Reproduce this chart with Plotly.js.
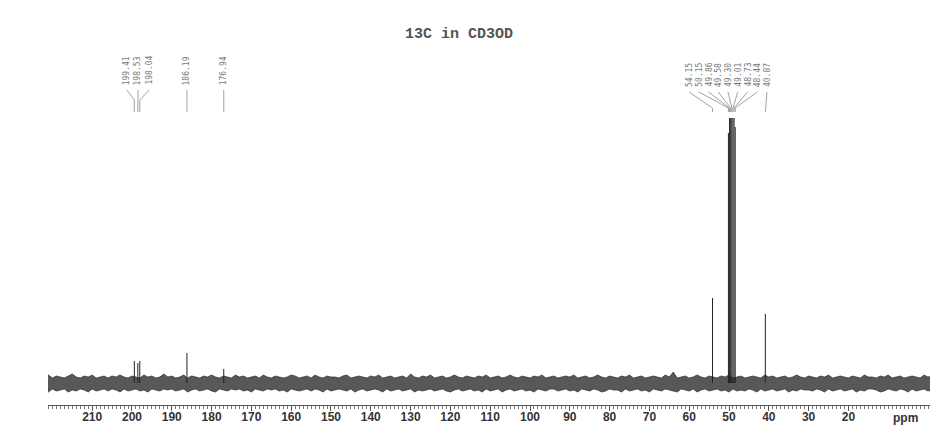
<!DOCTYPE html>
<html>
<head>
<meta charset="utf-8">
<script src="https://cdn.plot.ly/plotly-3.0.1.min.js"></script>
<style>html,body{margin:0;padding:0;background:#fff;}#chart{width:930px;height:427px;}</style>
</head>
<body>
<div id="chart"></div>
<script>
// ---- data ----
const titleText = "13C in CD3OD";
const peakPpm    = [199.41, 198.53, 198.04, 186.19, 176.94, 54.15, 50.15, 49.86, 49.58, 49.30, 49.01, 48.73, 48.44, 40.87];
const peakHeight = [22, 20, 22, 30, 14, 85, 250, 265, 265, 265, 265, 265, 256, 69];
const peakGroup  = ["a", "a", "a", "s", "s", "b", "b", "b", "b", "b", "b", "b", "b", "b"];
const tickVals   = [210, 200, 190, 180, 170, 160, 150, 140, 130, 120, 110, 100, 90, 80, 70, 60, 50, 40, 30, 20];
const tickText   = ["210","200","190","180","170","160","150","140","130","120","110","100","90","80","70","60","50","40","30","20"];
// baseline noise envelope (upper / lower edge), sampled every 1 ppm from 222 ppm down to -1 ppm
const noiseStart = 222, noiseStep = 1;
const noiseHi = [
  6,8,5,7,6,5,7,9,6,5,7,6,8,5,6,7,
  5,7,6,8,6,5,7,6,5,8,6,7,5,6,9,6,
  7,5,6,8,5,7,6,5,7,6,8,6,5,7,6,5,
  8,6,7,5,6,7,5,8,6,5,7,6,5,6,8,7,
  5,6,7,5,8,6,5,7,6,6,5,7,8,5,6,7,
  6,5,7,6,8,5,6,7,5,6,7,5,9,6,5,7,
  6,8,5,6,7,5,6,8,6,5,7,6,5,7,6,8,
  5,6,7,5,6,8,6,5,7,6,5,7,6,8,5,6,
  7,5,6,7,6,8,5,6,7,5,6,8,6,5,7,6,
  5,7,6,8,5,6,7,5,6,7,6,5,8,6,11,5,
  6,7,5,6,8,6,5,7,6,5,7,6,8,5,6,7,
  5,6,7,6,5,8,6,7,5,6,7,5,6,8,6,5,
  7,6,5,7,6,8,5,6,7,6,5,7,6,5,8,6,
  6,5,7,6,8,5,6,7,5,6,7,6,5,8,6,7];
const noiseLo = [
  -7,-9,-6,-8,-7,-6,-9,-7,-8,-6,-7,-9,-6,-8,-7,-6,
  -8,-6,-7,-9,-6,-8,-7,-6,-8,-7,-9,-6,-7,-8,-6,-7,
  -6,-8,-7,-6,-9,-7,-6,-8,-7,-6,-8,-9,-6,-7,-8,-6,
  -7,-6,-8,-7,-9,-6,-7,-8,-6,-7,-6,-8,-7,-9,-6,-7,
  -8,-7,-6,-8,-6,-7,-9,-6,-8,-7,-6,-7,-8,-6,-9,-7,
  -6,-8,-7,-6,-7,-9,-6,-8,-7,-6,-8,-7,-6,-9,-7,-8,
  -7,-6,-8,-7,-6,-8,-9,-7,-6,-8,-7,-6,-8,-7,-9,-6,
  -8,-7,-6,-9,-7,-6,-8,-7,-6,-8,-7,-9,-6,-7,-8,-6,
  -6,-8,-7,-6,-8,-7,-9,-6,-7,-8,-6,-7,-9,-8,-6,-7,
  -7,-9,-6,-8,-7,-6,-8,-7,-9,-6,-7,-8,-6,-7,-8,-9,
  -6,-7,-8,-6,-9,-7,-6,-8,-7,-6,-8,-7,-9,-6,-8,-7,
  -8,-6,-7,-9,-6,-8,-7,-6,-8,-7,-6,-9,-7,-8,-6,-7,
  -7,-8,-6,-7,-9,-6,-8,-7,-6,-8,-7,-6,-9,-7,-8,-6,
  -6,-7,-9,-8,-6,-7,-8,-6,-7,-9,-6,-8,-7,-6,-8,-7];

// ---- build traces ----
const noiseX = noiseHi.map((_, i) => noiseStart - i * noiseStep);

const stickX = [], stickY = [];
peakPpm.forEach((p, i) => { stickX.push(p, p, null); stickY.push(0, peakHeight[i], null); });

// label positions (layout): group a spread around 198.5 ppm, group b spread from 60.05 ppm
const labelX = [];
let ka = 0, kb = 0;
peakGroup.forEach((g, i) => {
  if (g === "a") { labelX.push(201.3 - 2.8 * ka); ka++; }
  else if (g === "b") { labelX.push(60.05 - 2.45 * kb); kb++; }
  else labelX.push(peakPpm[i]);
});

const connX = [], connY = [];
peakPpm.forEach((p, i) => {
  const top = peakGroup[i] === "b" ? 291 : 293;
  const knee = peakGroup[i] === "b" ? 275 : 283;
  connX.push(labelX[i], p, p, null);
  connY.push(top, knee, 271, null);
});

const traces = [
  {x: noiseX, y: noiseLo, type: "scatter", mode: "lines", line: {color: "#2b2b2b", width: 0.7}, hoverinfo: "skip", showlegend: false},
  {x: noiseX, y: noiseHi, type: "scatter", mode: "lines", fill: "tonexty", fillcolor: "rgba(70,70,70,0.9)", line: {color: "#2b2b2b", width: 0.7}, hoverinfo: "skip", showlegend: false},
  {x: stickX, y: stickY, type: "scatter", mode: "lines", line: {color: "#222", width: 1.0}, hoverinfo: "skip", showlegend: false},
  {x: connX, y: connY, type: "scatter", mode: "lines", line: {color: "#8a8a8a", width: 0.8}, hoverinfo: "skip", showlegend: false}
];

const annotations = peakPpm.map((p, i) => ({
  x: labelX[i], y: peakGroup[i] === "b" ? 294 : 296, xref: "x", yref: "y", text: p.toFixed(2), showarrow: false,
  textangle: -90, xanchor: "center", yanchor: "bottom",
  font: {family: "DejaVu Sans Mono", size: 8, color: "#777"}
}));
annotations.push({x: (905 - 48) / 882, y: -(418 - 405) / 385, xref: "paper", yref: "paper", text: "ppm", showarrow: false,
  xanchor: "center", yanchor: "middle", font: {family: "Liberation Sans", size: 12, color: "#333", weight: "bold"}});

const layout = {
  width: 930, height: 427,
  margin: {l: 48, r: 0, t: 20, b: 22},
  paper_bgcolor: "#fff", plot_bgcolor: "#fff",
  title: {text: titleText, x: 459/930, xanchor: "center", xref: "container", yref: "container", y: 1 - 33/427, yanchor: "middle",
          font: {family: "Liberation Mono", size: 15, color: "#555", weight: "bold"}},
  xaxis: {range: [221.1, -0.5], tickmode: "array", tickvals: tickVals, ticktext: tickText,
          ticks: "outside", ticklen: 5, tickcolor: "#555", tickwidth: 1, ticklabelstandoff: -4,
          showline: true, linecolor: "#555", linewidth: 1, showgrid: false, zeroline: false,
          tickfont: {family: "Liberation Sans", size: 12, color: "#333", weight: "bold"},
          minor: {dtick: 1, tick0: 0, ticks: "outside", ticklen: 3, tickcolor: "#777", showgrid: false},
          automargin: false, fixedrange: true},
  yaxis: {visible: false, range: [-22, 363], fixedrange: true},
  annotations: annotations,
  showlegend: false
};

Plotly.newPlot("chart", traces, layout, {displayModeBar: false, staticPlot: true});
</script>
</body>
</html>
